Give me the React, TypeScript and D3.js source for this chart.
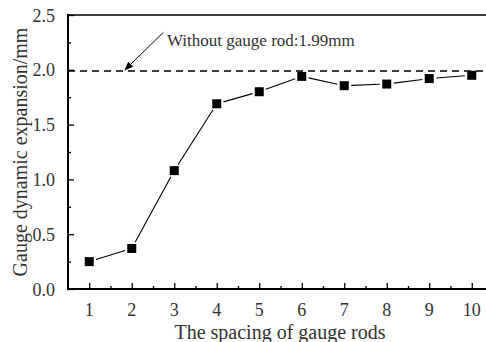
import React, { useEffect, useRef } from 'react';
import * as d3 from 'd3';

const spacing = [1, 2, 3, 4, 5, 6, 7, 8, 9, 10];
const expansion = [0.25, 0.37, 1.08, 1.69, 1.8, 1.94, 1.855, 1.87, 1.92, 1.95];
const referenceValue = 1.99;
const yTicks = [0, 0.5, 1.0, 1.5, 2.0, 2.5];
const referenceLabel = 'Without gauge rod:1.99mm';

const App = () => {
  const ref = useRef<SVGSVGElement>(null);

  useEffect(() => {
    const svg = d3.select(ref.current);
    svg.selectAll('*').remove();

    const W = 486, H = 342;
    const left = 68, top = 15, bottom = 289, right = 493;
    const font = '"Liberation Serif", "DejaVu Serif", serif';

    const x = d3.scaleLinear().domain([0.5, 10.5]).range([left, right]);
    const y = d3.scaleLinear().domain([0, 2.5]).range([bottom, top]);

    svg.attr('width', W).attr('height', H);

    // frame top
    svg.append('line')
      .attr('x1', left).attr('x2', right).attr('y1', top).attr('y2', top)
      .style('stroke', '#000').style('stroke-width', 1.6);

    // x axis (ticks inward)
    svg.append('g').attr('transform', `translate(0,${bottom})`)
      .call(d3.axisTop(x).tickValues(spacing).tickSize(6).tickSizeOuter(0).tickFormat(() => ''))
      .call(g => g.select('.domain').remove())
      .selectAll('line').style('stroke-width', 1.3);
    svg.append('g').attr('transform', `translate(0,${bottom})`)
      .call(d3.axisTop(x).tickValues(spacing.map(d => d + 0.5)).tickSize(3).tickSizeOuter(0).tickFormat(() => ''))
      .call(g => g.select('.domain').remove())
      .selectAll('line').style('stroke-width', 1.3);
    svg.append('line')
      .attr('x1', left).attr('x2', right).attr('y1', bottom).attr('y2', bottom)
      .style('stroke', '#000').style('stroke-width', 2);

    svg.append('g').selectAll('text').data(spacing).enter().append('text')
      .attr('x', d => x(d)).attr('y', bottom + 27)
      .attr('text-anchor', 'middle')
      .style('font-family', font).style('font-size', '18px').style('fill', '#333')
      .text(d => d);

    // y axis (ticks inward)
    svg.append('g').attr('transform', `translate(${left},0)`)
      .call(d3.axisRight(y).tickValues(yTicks).tickSize(6).tickSizeOuter(0).tickFormat(() => ''))
      .call(g => g.select('.domain').remove())
      .selectAll('line').style('stroke-width', 1.3);
    svg.append('g').attr('transform', `translate(${left},0)`)
      .call(d3.axisRight(y).tickValues(yTicks.slice(0, -1).map(d => d + 0.25)).tickSize(3).tickSizeOuter(0).tickFormat(() => ''))
      .call(g => g.select('.domain').remove())
      .selectAll('line').style('stroke-width', 1.3);
    svg.append('line')
      .attr('x1', left).attr('x2', left).attr('y1', top - 1).attr('y2', bottom + 1)
      .style('stroke', '#000').style('stroke-width', 2);

    svg.append('g').selectAll('text').data(yTicks).enter().append('text')
      .attr('x', left - 13).attr('y', d => y(d) + 6.5)
      .attr('text-anchor', 'end')
      .style('font-family', font).style('font-size', '18px').style('fill', '#333')
      .text(d => d3.format('.1f')(d));

    // axis titles
    svg.append('text')
      .attr('x', 280).attr('y', 339)
      .attr('text-anchor', 'middle')
      .style('font-family', font).style('font-size', '20px').style('fill', '#333')
      .text('The spacing of gauge rods');
    svg.append('text')
      .attr('transform', `translate(27,${(top + bottom) / 2}) rotate(-90)`)
      .attr('text-anchor', 'middle')
      .style('font-family', font).style('font-size', '20px').style('fill', '#333')
      .text('Gauge dynamic expansion/mm');

    // reference dashed line
    svg.append('line')
      .attr('x1', left).attr('x2', right)
      .attr('y1', y(referenceValue)).attr('y2', y(referenceValue))
      .style('stroke', '#000').style('stroke-width', 1.5)
      .style('stroke-dasharray', '7,5');

    // annotation arrow + label
    const tipX = x(1.84), tipY = y(referenceValue) - 1;
    const tailX = x(2.74), tailY = y(2.34);
    svg.append('defs').append('marker')
      .attr('id', 'arrowHead').attr('viewBox', '0 0 10 10')
      .attr('refX', 9).attr('refY', 5)
      .attr('markerWidth', 11).attr('markerHeight', 9)
      .attr('markerUnits', 'userSpaceOnUse')
      .attr('orient', 'auto')
      .append('path').attr('d', 'M0,1 L10,5 L0,9 Z').style('fill', '#000');
    svg.append('line')
      .attr('x1', tailX).attr('y1', tailY).attr('x2', tipX).attr('y2', tipY)
      .style('stroke', '#000').style('stroke-width', 1)
      .attr('marker-end', 'url(#arrowHead)');
    svg.append('text')
      .attr('x', 167).attr('y', 46)
      .style('font-family', font).style('font-size', '17px').style('fill', '#333')
      .text(referenceLabel);

    // data line with gaps around markers
    const pts = spacing.map((d, i) => [x(d), y(expansion[i])]);
    const gap = 7;
    const segs = d3.pairs(pts).map(([a, b]) => {
      const dx = b[0] - a[0], dy = b[1] - a[1];
      const len = Math.hypot(dx, dy);
      const ux = dx / len, uy = dy / len;
      return [a[0] + ux * gap, a[1] + uy * gap, b[0] - ux * gap, b[1] - uy * gap];
    });
    svg.append('g').selectAll('line').data(segs).enter().append('line')
      .attr('x1', d => d[0]).attr('y1', d => d[1]).attr('x2', d => d[2]).attr('y2', d => d[3])
      .style('stroke', '#000').style('stroke-width', 1.1);

    const size = 9;
    svg.append('g').selectAll('rect').data(pts).enter().append('rect')
      .attr('x', d => d[0] - size / 2).attr('y', d => d[1] - size / 2)
      .attr('width', size).attr('height', size)
      .style('fill', '#000');
  }, []);

  return <svg ref={ref} style={{ position: 'absolute', left: 0, top: 0, display: 'block' }}></svg>;
};

export default App;
